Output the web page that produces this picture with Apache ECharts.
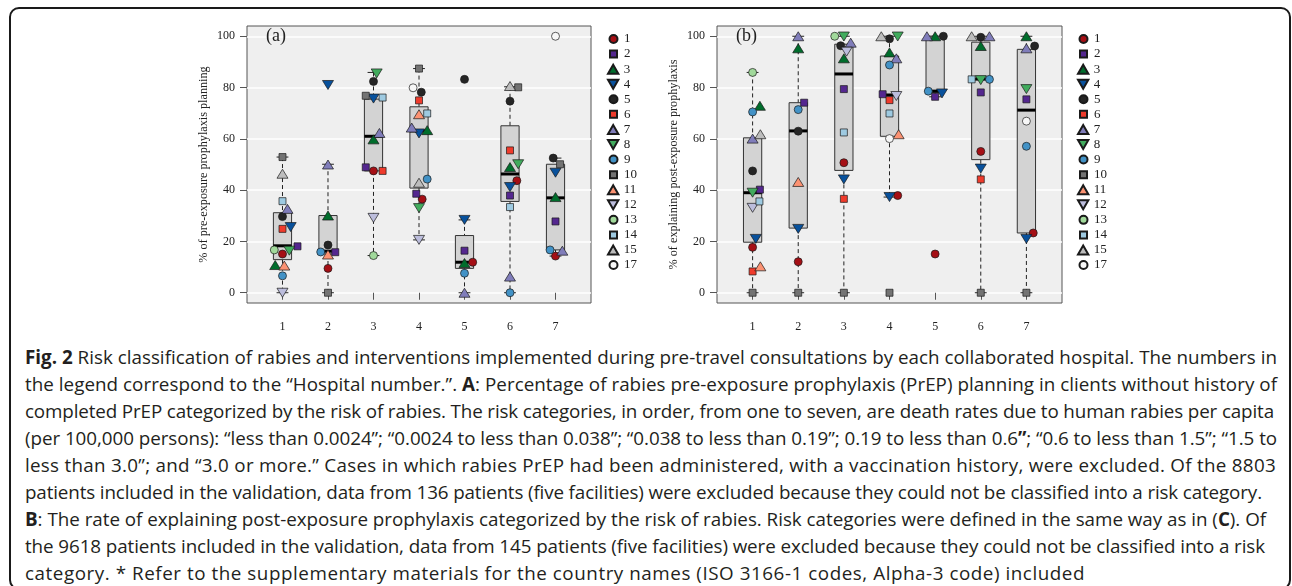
<!DOCTYPE html>
<html><head><meta charset="utf-8">
<script src="https://cdn.jsdelivr.net/npm/echarts@6/dist/echarts.min.js"></script>
<style>
html,body{margin:0;padding:0;background:#fff;width:1292px;height:586px;overflow:hidden;}
#frame{position:absolute;left:9px;top:7px;width:1282px;height:583px;border:2px solid #1a1a1a;border-radius:10px;box-sizing:border-box;}
#chart{position:absolute;left:0;top:0;width:1292px;height:340px;}
#cap{position:absolute;left:25px;top:344px;font-family:'Open Sans';font-size:16px;line-height:27px;color:#231f20;}
#cap .l{white-space:nowrap;}
#cap b{font-weight:700;}
</style></head>
<body>
<div id="frame"></div>
<div id="chart"></div>
<div id="cap">
<div class="l"><span><b>Fig. 2</b> Risk classification of rabies and interventions implemented during pre-travel consultations by each collaborated hospital. The numbers in</span></div>
<div class="l"><span>the legend correspond to the “Hospital number.”. <b>A</b>: Percentage of rabies pre-exposure prophylaxis (PrEP) planning in clients without history of</span></div>
<div class="l"><span>completed PrEP categorized by the risk of rabies. The risk categories, in order, from one to seven, are death rates due to human rabies per capita</span></div>
<div class="l"><span>(per 100,000 persons): “less than 0.0024”; “0.0024 to less than 0.038”; “0.038 to less than 0.19”; 0.19 to less than 0.6<b>”</b>; “0.6 to less than 1.5”; “1.5 to</span></div>
<div class="l"><span>less than 3.0”; and “3.0 or more.” Cases in which rabies PrEP had been administered, with a vaccination history, were excluded. Of the 8803</span></div>
<div class="l"><span>patients included in the validation, data from 136 patients (five facilities) were excluded because they could not be classified into a risk category.</span></div>
<div class="l"><span><b>B</b>: The rate of explaining post-exposure prophylaxis categorized by the risk of rabies. Risk categories were defined in the same way as in (<b>C</b>). Of</span></div>
<div class="l"><span>the 9618 patients included in the validation, data from 145 patients (five facilities) were excluded because they could not be classified into a risk</span></div>
<div class="l"><span>category. * Refer to the supplementary materials for the country names (ISO 3166-1 codes, Alpha-3 code) included</span></div>
</div>
<script>
// ---------------- data ----------------
const categories = ['1', '2', '3', '4', '5', '6', '7'];
const yTicks = [0, 20, 40, 60, 80, 100];
const hospitals = ['1', '2', '3', '4', '5', '6', '7', '8', '9', '10', '11', '12', '13', '14', '15', '17'];
const hospitalColors = ['#a50f15', '#54278f', '#006d2c', '#08519c', '#252525', '#ef3b2c', '#807dba', '#41ab5d',
  '#4292c6', '#737373', '#fc9272', '#bcbddc', '#a1d99b', '#9ecae1', '#bdbdbd', '#f7f7f7'];
const hospitalShapes = ['circle', 'square', 'triUp', 'triDown', 'circle', 'square', 'triUp', 'triDown',
  'circle', 'square', 'triUp', 'triDown', 'circle', 'square', 'triUp', 'circle'];

// box statistics per risk category: [lower whisker, Q1, median, Q3, upper whisker]
const boxA = [
  [0, 12.9, 18.3, 31.2, 52.9],
  [0, 15.1, 16.2, 30.1, 50.1],
  [14.5, 47.5, 61.0, 75.5, 85.9],
  [20.6, 40.8, 63.1, 72.5, 87.4],
  [0, 9.5, 11.9, 22.3, 28.4],
  [0, 35.6, 46.3, 65.1, 80.3],
  [14.3, 16.7, 37.0, 50.1, 52.5]
];
const boxB = [
  [0, 19.7, 39.0, 60.4, 85.9],
  [0, 25.2, 63.1, 74.1, 100],
  [0, 47.7, 85.3, 96.9, 100],
  [37.3, 61.0, 77.1, 92.3, 100],
  [76.4, 78.0, 78.6, 100, 100],
  [0, 51.9, 83.3, 97.7, 100],
  [0, 23.3, 71.2, 94.9, 100]
];

// (a) % of pre-exposure prophylaxis planning, per hospital, per risk category
const valuesA = {
  '1':  [15.1, 9.5, 47.5, 36.5, 11.9, 43.7, 14.3],
  '2':  [18.1, 15.8, 48.9, 38.6, 16.4, 37.9, 27.8],
  '3':  [10.8, 30.1, 59.8, 63.4, 11.6, 49.0, 37.3],
  '4':  [25.6, 81.0, 75.7, 62.1, 28.4, 41.2, 46.8],
  '5':  [29.7, 18.6, 82.4, 78.2, 83.2, 74.7, 52.5],
  '6':  [24.9, null, 47.5, 75.0, null, 55.5, null],
  '7':  [32.7, 50.0, 62.3, 64.4, 0, 6.3, 16.4],
  '8':  [16.4, null, 85.5, 33.0, null, 50.1, null],
  '9':  [6.6, 15.9, null, 44.3, 7.6, 0, 16.7],
  '10': [52.9, 0, 76.8, 87.4, null, 80.1, 50.1],
  '11': [10.6, 14.9, null, 69.6, null, null, null],
  '12': [0, null, 29.2, 20.6, null, null, null],
  '13': [16.7, null, 14.5, null, null, null, null],
  '14': [35.7, null, 76.1, 69.9, null, 33.4, null],
  '15': [46.4, null, null, 42.9, null, 80.6, null],
  '17': [null, null, null, 79.9, null, null, 100]
};
// horizontal jitter (in category units) used in the original plot
const jitterA = {
  '1':  [0, 0, 0, 0.07, 0.18, 0.15, 0],
  '2':  [0.33, 0.16, -0.17, -0.06, 0, 0, 0],
  '3':  [-0.16, 0, 0, 0.18, 0, 0, 0],
  '4':  [0.18, 0, 0, 0, 0, 0, 0],
  '5':  [0, 0, 0, 0.05, 0, 0, -0.05],
  '6':  [0, 0, 0.2, 0, 0, 0, 0],
  '7':  [0.11, 0, 0.13, -0.16, 0, 0, 0.15],
  '8':  [0.15, 0, 0.07, 0, 0, 0.18, 0],
  '9':  [0, -0.16, 0, 0.18, 0, 0, -0.12],
  '10': [0, 0, -0.17, 0, 0, 0.18, 0.1],
  '11': [0.04, 0, 0, 0, 0, 0, 0],
  '12': [0, 0, 0, 0, 0, 0, 0],
  '13': [-0.18, 0, 0, 0, 0, 0, 0],
  '14': [0, 0, 0.2, 0.18, 0, 0, 0],
  '15': [0, 0, 0, 0, 0, 0, 0],
  '17': [0, 0, 0, -0.13, 0, 0, 0]
};

// (b) % of explaining post-exposure prophylaxis
const valuesB = {
  '1':  [17.7, 12.1, 50.7, 37.9, 15.1, 55.1, 23.3],
  '2':  [40.2, 74.1, 79.4, 77.4, 76.4, 78.1, 75.4],
  '3':  [72.9, 95.3, 91.4, 93.7, 100, 96.2, 100],
  '4':  [21.0, 24.9, 44.2, 37.3, 77.7, 48.4, 21.0],
  '5':  [47.5, 63.0, 96.3, 99.0, 100, 99.6, 96.2],
  '6':  [8.3, null, 36.6, 75.1, null, 44.2, null],
  '7':  [60.1, 100, 97.5, 91.4, 100, 100, 95.3],
  '8':  [39.0, null, 99.9, 99.9, null, 82.9, 79.4],
  '9':  [70.5, 71.4, null, 88.8, 78.6, 83.2, 57.1],
  '10': [0, 0, 0, 0, null, 0, 0],
  '11': [10.3, 43.2, null, 61.8, null, null, null],
  '12': [33.1, null, 94.0, 76.7, null, null, null],
  '13': [85.9, null, 100, null, null, null, null],
  '14': [35.6, null, 62.5, 69.9, null, 83.2, null],
  '15': [61.8, null, null, 100, null, 100, null],
  '17': [null, null, null, 60.1, null, null, 66.9]
};
const jitterB = {
  '1':  [0, 0, 0, 0.18, 0, 0, 0.15],
  '2':  [0.16, 0.13, 0, -0.15, 0, 0, 0],
  '3':  [0.16, 0, 0, 0, 0, 0, 0],
  '4':  [0.07, 0, 0, 0, 0.15, 0, 0],
  '5':  [0, 0, -0.07, 0, 0.18, 0, 0.18],
  '6':  [0, 0, 0, 0, 0, 0, 0],
  '7':  [0, 0, 0.15, 0.15, -0.18, 0.19, 0],
  '8':  [0, 0, 0, 0.18, 0, 0, 0],
  '9':  [0, 0, 0, 0, -0.15, 0.19, 0],
  '10': [0, 0, 0, 0, 0, 0, 0],
  '11': [0.17, 0, 0, 0.2, 0, 0, 0],
  '12': [0, 0, 0.06, 0.15, 0, 0, 0],
  '13': [0, 0, -0.2, 0, 0, 0, 0],
  '14': [0.15, 0, 0, 0, 0, -0.2, 0],
  '15': [0.17, 0, 0, -0.18, 0, -0.2, 0],
  '17': [0, 0, 0, 0, 0, 0, 0]
};

// ---------------- chart ----------------
const SERIF = 'Liberation Serif';
const BOX_W = 0.4;
const TRI_UP = 'path://M5,0L10,8.7L0,8.7Z';
const TRI_DOWN = 'path://M0,0L10,0L5,8.7Z';
const chart = echarts.init(document.getElementById('chart'), null, {renderer: 'canvas'});

function boxRender(params, api) {
  const x = api.value(0);
  const pLo = api.coord([x, api.value(1)]);
  const pQ1 = api.coord([x, api.value(2)]);
  const pMd = api.coord([x, api.value(3)]);
  const pQ3 = api.coord([x, api.value(4)]);
  const pHi = api.coord([x, api.value(5)]);
  const hw = api.size([BOX_W, 0])[0] / 2;
  const cw = hw * 0.65;
  const cx = pLo[0];
  const ln = (x1, y1, x2, y2, style) => ({type: 'line', shape: {x1, y1, x2, y2}, style});
  const dash = {stroke: '#222', lineWidth: 1, lineDash: [4, 3]};
  const solid = {stroke: '#222', lineWidth: 1};
  return {type: 'group', children: [
    ln(cx, pHi[1], cx, pQ3[1], dash),
    ln(cx, pQ1[1], cx, pLo[1], dash),
    ln(cx - cw, pHi[1], cx + cw, pHi[1], solid),
    ln(cx - cw, pLo[1], cx + cw, pLo[1], solid),
    {type: 'rect', shape: {x: cx - hw, y: pQ3[1], width: 2 * hw, height: pQ1[1] - pQ3[1]},
      style: {fill: '#d3d3d3', stroke: '#333', lineWidth: 1}},
    ln(cx - hw, pMd[1], cx + hw, pMd[1], {stroke: '#000', lineWidth: 3})
  ]};
}

// marker shape -> symbol, plot size, legend icon size
function shapeOf(i) {
  const s = hospitalShapes[i];
  if (s === 'circle') return {symbol: 'circle', symbolSize: 8, legend: [8, 8]};
  if (s === 'square') return {symbol: 'rect', symbolSize: 7, legend: [7, 7]};
  if (s === 'triUp') return {symbol: TRI_UP, symbolSize: [11, 9], legend: [11, 9]};
  return {symbol: TRI_DOWN, symbolSize: [11, 9], legend: [11, 9]};
}

function xAxisFor(gi) {
  return {
    type: 'value', gridIndex: gi, min: 0.22, max: 7.78,
    axisLine: {show: false},
    axisTick: {show: true, length: 7, lineStyle: {color: '#555'}, customValues: categories.map((c, i) => i + 1)},
    axisLabel: {show: true, margin: 18, fontFamily: SERIF, fontSize: 12, color: '#222',
      customValues: categories.map((c, i) => i + 1), formatter: v => categories[Math.round(v) - 1]},
    splitLine: {show: false}
  };
}
function yAxisFor(gi, name) {
  return {
    type: 'value', gridIndex: gi, min: -4, max: 104,
    name: name, nameLocation: 'middle', nameGap: 37,
    nameTextStyle: {fontFamily: SERIF, fontSize: 12.2, color: '#222'},
    axisLine: {show: false},
    axisTick: {show: true, length: 7, lineStyle: {color: '#555'}, customValues: yTicks},
    axisLabel: {show: true, margin: 12, fontFamily: SERIF, fontSize: 12, color: '#222', customValues: yTicks},
    splitLine: {show: true, lineStyle: {color: '#ffffff', width: 1.5}}
  };
}

const series = [];
series.push({type: 'custom', xAxisIndex: 0, yAxisIndex: 0, z: 2, silent: true,
  renderItem: boxRender, encode: {x: 0, y: [1, 2, 3, 4, 5]},
  data: boxA.map((b, i) => [i + 1].concat(b))});
series.push({type: 'custom', xAxisIndex: 1, yAxisIndex: 1, z: 2, silent: true,
  renderItem: boxRender, encode: {x: 0, y: [1, 2, 3, 4, 5]},
  data: boxB.map((b, i) => [i + 1].concat(b))});

[[valuesA, jitterA, 0], [valuesB, jitterB, 1]].forEach(([vals, jit, gi]) => {
  hospitals.forEach((h, i) => {
    const data = [];
    vals[h].forEach((v, c) => { if (v !== null) data.push([c + 1 + jit[h][c], v]); });
    const sh = shapeOf(i);
    series.push({
      type: 'scatter', name: h, xAxisIndex: gi, yAxisIndex: gi, z: 4,
      symbol: sh.symbol, symbolSize: sh.symbolSize, symbolKeepAspect: false,
      itemStyle: {color: hospitalColors[i], borderColor: '#1a1a1a', borderWidth: 0.7, opacity: 1},
      emphasis: {disabled: true},
      data: data
    });
  });
});

// one legend entry per hospital so each icon keeps its own size
const legends = [];
[606, 1076].forEach(x0 => {
  hospitals.forEach((h, i) => {
    const sz = shapeOf(i).legend;
    const textX = x0 + 17;
    legends.push({
      orient: 'vertical', left: textX - 5 - sz[0] + (sz[0] - 11) / 2, top: 39 + i * 15.07 - 7,
      padding: 0, itemWidth: sz[0], itemHeight: sz[1], itemGap: 0,
      data: [h], selectedMode: false,
      textStyle: {fontFamily: SERIF, fontSize: 13, color: '#222', padding: [0, 0, 0, (11 - sz[0]) / 2], lineHeight: 14}
    });
  });
});

chart.setOption({
  animation: false,
  backgroundColor: 'transparent',
  title: [
    {text: '(a)', left: 266, top: 27, padding: 0, textStyle: {fontFamily: SERIF, fontSize: 18, fontWeight: 'normal', color: '#222'}},
    {text: '(b)', left: 736, top: 27, padding: 0, textStyle: {fontFamily: SERIF, fontSize: 18, fontWeight: 'normal', color: '#222'}}
  ],
  grid: [
    {left: 247, top: 26, width: 344, height: 277, show: true, backgroundColor: '#efefef', borderColor: '#555', borderWidth: 1},
    {left: 717, top: 26, width: 345, height: 277, show: true, backgroundColor: '#efefef', borderColor: '#555', borderWidth: 1}
  ],
  xAxis: [xAxisFor(0), xAxisFor(1)],
  yAxis: [yAxisFor(0, '% of pre-exposure prophylaxis planning'), yAxisFor(1, '% of explaining post-exposure prophylaxis')],
  legend: legends,
  series: series
});

// caption: fit font to first line, then per-line letter spacing to reference line widths
(function fitCaption() {
  const cap = document.getElementById('cap');
  const spans = Array.from(cap.querySelectorAll('.l > span'));
  const targets = [1252, 1252, 1249, 1252, 1251, 1237, 1241, 1240, 1060];
  const w0 = spans[0].getBoundingClientRect().width;
  cap.style.fontSize = (16 * targets[0] / w0).toFixed(3) + 'px';
  spans.forEach((s, i) => {
    s.style.letterSpacing = '0px';
    const w = s.getBoundingClientRect().width;
    const n = s.textContent.length;
    s.style.letterSpacing = ((targets[i] - w) / n).toFixed(3) + 'px';
  });
})();
</script>
</body></html>
